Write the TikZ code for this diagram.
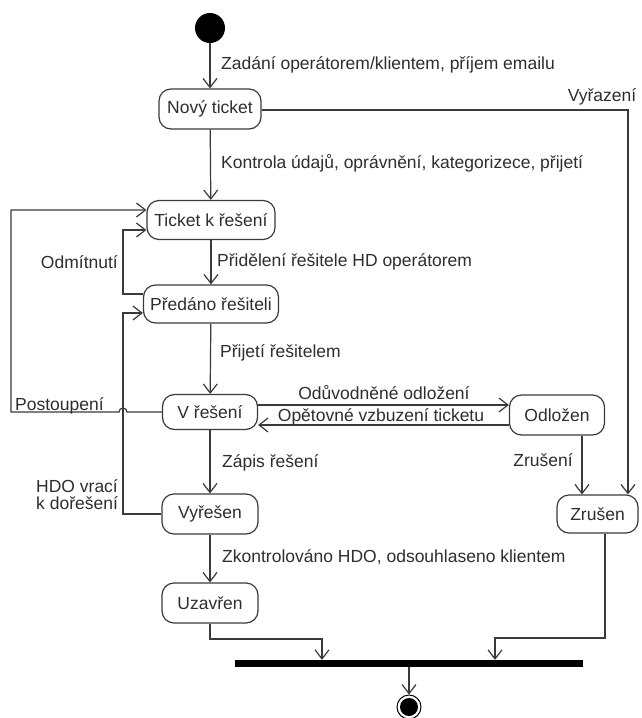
\documentclass[tikz,border=0pt]{standalone}
\usepackage{fontspec}
\setmainfont{Liberation Sans}
\usetikzlibrary{arrows.meta,calc}
\definecolor{ln}{HTML}{3A3A3A}
\definecolor{tx}{HTML}{2E2E2E}
\tikzset{
  state/.style={draw=ln, line width=1.2pt, rounded corners=12pt, inner sep=0pt,
    text=tx, font=\fontsize{17.5}{20}\selectfont},
  lbl/.style={text=tx, font=\fontsize{17.5}{20}\selectfont, inner sep=0pt},
  conn/.style={draw=ln, line width=1.2pt},
  arr/.style={conn, -{Straight Barb[length=9pt,width=14pt,line width=1.2pt]}},
}
\begin{document}
\begin{tikzpicture}[x=1pt,y=-1pt]
\useasboundingbox (0,0) rectangle (642,718);
% nodes
\node[circle, fill=black, minimum size=30pt, inner sep=0pt] (start) at (210,28) {};
\node[state, minimum width=102pt, minimum height=40pt] (nt) at (210,109) {Nový ticket};
\node[state, minimum width=128pt, minimum height=39pt] (tk) at (211,220) {Ticket k řešení};
\node[state, minimum width=135pt, minimum height=38pt] (pr) at (211,304) {Předáno řešiteli};
\node[state, minimum width=95pt, minimum height=35pt] (vr) at (210,412) {V řešení};
\node[state, minimum width=96pt, minimum height=40pt] (vy) at (210,514) {Vyřešen};
\node[state, minimum width=96pt, minimum height=40pt] (uz) at (210,603) {Uzavřen};
\node[state, minimum width=95pt, minimum height=40pt] (od) at (557,415) {Odložen};
\node[state, minimum width=81pt, minimum height=38pt] (zr) at (597.5,514) {Zrušen};
\node[fill=black, minimum width=348pt, minimum height=7pt, inner sep=0pt] (bar) at (409,663.5) {};
\node[circle, draw=black, line width=1pt, fill=white, minimum size=24pt, inner sep=0pt] (end) at (409,707) {};
\node[circle, fill=black, minimum size=18pt, inner sep=0pt] (endin) at (409,707) {};

% helper coordinates
\coordinate (c1) at (628,110);
\coordinate (c2) at (605,638);
\coordinate (c3) at (495,638);
\coordinate (c4) at (210,639);
\coordinate (c5) at (322,639);
\coordinate (hopR) at (127,412);
\coordinate (lx) at (11,412);
\coordinate (mx) at (123,294);

% vertical flow
\draw[arr] (start) -- (nt);
\draw[arr] (nt) -- (tk);
\draw[arr] (tk) -- (pr);
\draw[arr] (pr) -- (vr);
\draw[arr] (vr) -- (vy);
\draw[arr] (vy) -- (uz);
% Vyřazení
\draw[arr] (nt.east |- c1) -- (c1) -- (c1 |- zr.north);
% Odložení / vzbuzení
\draw[arr] ($(vr.east)+(0,-7)$) -- ($(od.west)+(0,-10)$);
\draw[arr] ($(od.west)+(0,10)$) -- ($(vr.east)+(0,13)$);
% Zrušení
\draw[arr] (od.south -| 582,0) -- (zr.north -| 582,0);
% to bar
\draw[arr] (zr.south -| c2) -- (c2) -- (c3) -- (c3 |- bar.north);
\draw[arr] (uz.south) -- (c4) -- (c5) -- (c5 |- bar.north);
\draw[arr] (bar.south -| end.north) -- (end.north);
% Postoupení with hop
\draw[arr] (vr.west) -- (hopR) arc[start angle=0, end angle=180, radius=4pt] -- (lx) |- ($(tk.west)+(0,-10)$);
% Odmítnutí
\draw[arr] ($(pr.west)+(0,-10)$) -- (mx) |- ($(tk.west)+(0,10)$);
% HDO vrací
\draw[arr] (vy.west) -| (123,313) -- ($(pr.west)+(0,9)$);

% labels
\node[lbl, anchor=west] (l1) at (221,65) {Zadání operátorem/klientem, příjem emailu};
\node[lbl] (l2) at (602,97) {Vyřazení};
\node[lbl, anchor=west] (l3) at (221,163) {Kontrola údajů, oprávnění, kategorizece, přijetí};
\node[lbl, anchor=east] (l4) at (118,262) {Odmítnutí};
\node[lbl, anchor=west] (l5) at (217,262) {Přidělení řešitele HD operátorem};
\node[lbl, anchor=west] (l6) at (220,353) {Přijetí řešitelem};
\node[lbl, anchor=west] (l7) at (15,406) {Postoupení};
\node[lbl] (l8) at (384,393) {Odůvodněné odložení};
\node[lbl] (l9) at (381,417) {Opětovné vzbuzení ticketu};
\node[lbl, anchor=west] (l10) at (222,463) {Zápis řešení};
\node[lbl] (l11) at (543,460) {Zrušení};
\node[lbl, anchor=west, align=left, font=\fontsize{17.5}{17}\selectfont] (l12) at (36,495) {HDO vrací\\k dořešení};
\node[lbl, anchor=west] (l13) at (222,557) {Zkontrolováno HDO, odsouhlaseno klientem};
\end{tikzpicture}
\end{document}
